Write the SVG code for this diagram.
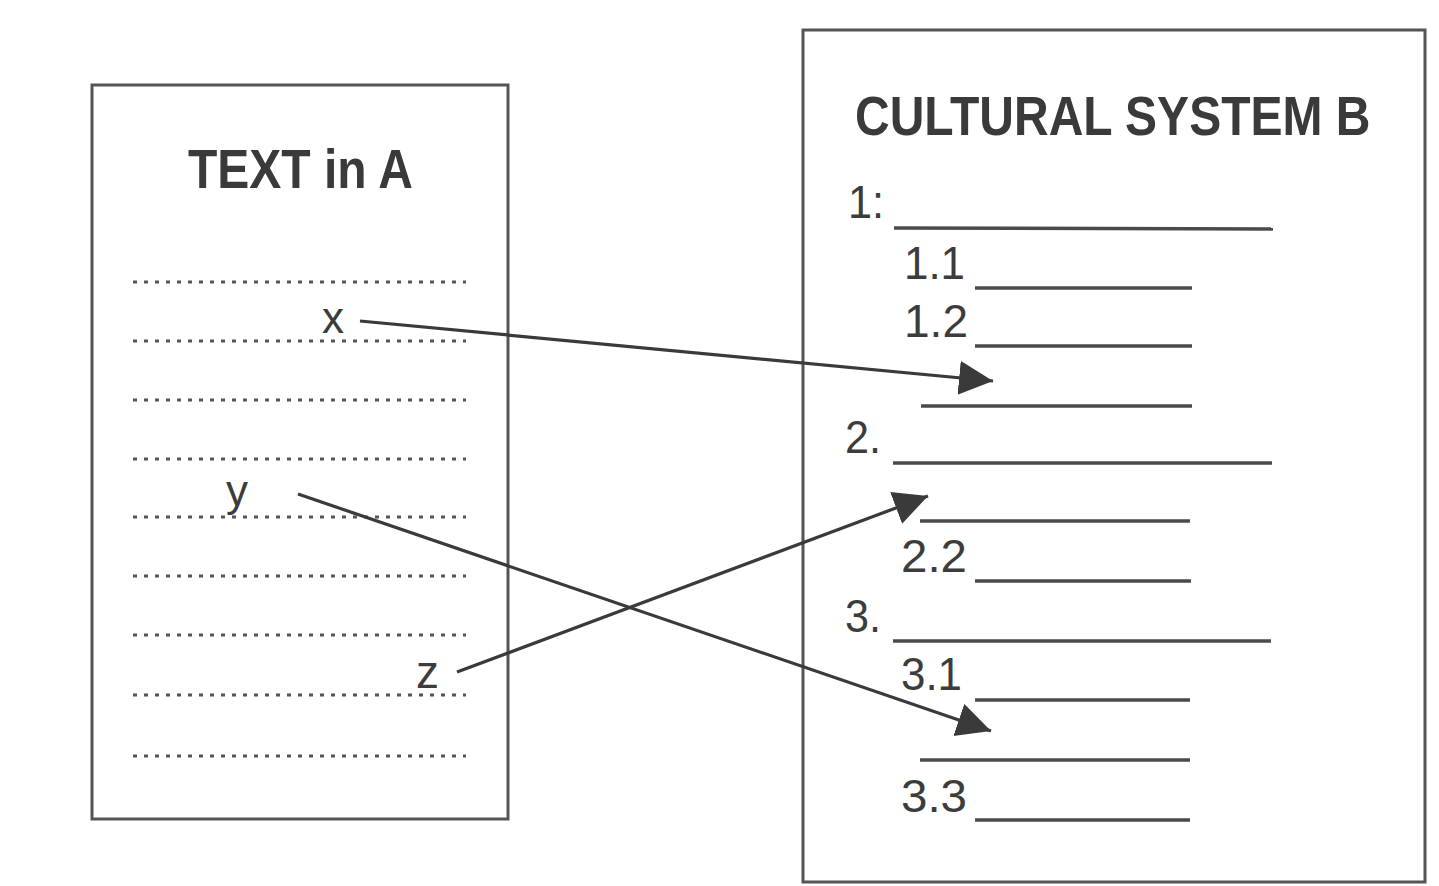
<svg xmlns="http://www.w3.org/2000/svg" width="1439" height="886" viewBox="0 0 1439 886">
<style>
.box{fill:none;stroke:#555;stroke-width:3}
.title{font-family:"Liberation Sans",Arial,sans-serif;font-weight:bold;fill:#3a3a3a;font-size:48px}
.lbl{font-family:"Liberation Sans",Arial,sans-serif;fill:#3c3c3c}
.dot{stroke:#555;stroke-width:3;stroke-dasharray:4 7}
.ul{stroke:#4a4a4a;stroke-width:3.5}
.arr{stroke:#3a3a3a;stroke-width:3.2;fill:none;marker-end:url(#ah)}
</style>
<defs>
<marker id="ah" markerUnits="userSpaceOnUse" markerWidth="36" markerHeight="36" refX="34" refY="17" orient="auto" viewBox="0 0 36 36">
<path d="M0,0 L34,17 L0,34 z" fill="#3a3a3a"/>
</marker>
</defs>
<rect width="1439" height="886" fill="#fff"/>
<g id="textA">
<rect class="box" x="92" y="85" width="416" height="734"/>
<text class="title" transform="translate(188,188) scale(1,1.16)" x="0" y="0">TEXT in A</text>
<line class="dot" x1="133" y1="282" x2="466" y2="282"/>
<line class="dot" x1="133" y1="341" x2="466" y2="341"/>
<line class="dot" x1="133" y1="400" x2="466" y2="400"/>
<line class="dot" x1="133" y1="459" x2="466" y2="459"/>
<line class="dot" x1="133" y1="517" x2="466" y2="517"/>
<line class="dot" x1="133" y1="576" x2="466" y2="576"/>
<line class="dot" x1="133" y1="635" x2="466" y2="635"/>
<line class="dot" x1="133" y1="695" x2="466" y2="695"/>
<line class="dot" x1="133" y1="756" x2="466" y2="756"/>
<text class="lbl" x="322" y="333" font-size="44">x</text>
<text class="lbl" x="226" y="506" font-size="44">y</text>
<text class="lbl" x="416" y="688" font-size="46">z</text>
</g>
<g id="systemB">
<rect class="box" x="803" y="30" width="622" height="852"/>
<text class="title" transform="translate(855,135) scale(1,1.16)" x="0" y="0">CULTURAL SYSTEM B</text>
<text class="lbl" x="848" y="218" font-size="46" textLength="36" lengthAdjust="spacingAndGlyphs">1:</text>
<line class="ul" x1="894" y1="228" x2="1273" y2="229"/>
<text class="lbl" x="904" y="279" font-size="46" textLength="61" lengthAdjust="spacingAndGlyphs">1.1</text>
<line class="ul" x1="975" y1="288" x2="1192" y2="288"/>
<text class="lbl" x="904" y="337" font-size="46" textLength="64" lengthAdjust="spacingAndGlyphs">1.2</text>
<line class="ul" x1="975" y1="346" x2="1192" y2="346"/>
<line class="ul" x1="921" y1="406" x2="1192" y2="406"/>
<text class="lbl" x="845" y="453" font-size="46" textLength="36" lengthAdjust="spacingAndGlyphs">2.</text>
<line class="ul" x1="893" y1="463" x2="1272" y2="463"/>
<line class="ul" x1="920" y1="521" x2="1190" y2="521"/>
<text class="lbl" x="901" y="572" font-size="46" textLength="66" lengthAdjust="spacingAndGlyphs">2.2</text>
<line class="ul" x1="975" y1="581" x2="1191" y2="581"/>
<text class="lbl" x="845" y="632" font-size="46" textLength="36" lengthAdjust="spacingAndGlyphs">3.</text>
<line class="ul" x1="893" y1="641" x2="1271" y2="641"/>
<text class="lbl" x="901" y="690" font-size="46" textLength="61" lengthAdjust="spacingAndGlyphs">3.1</text>
<line class="ul" x1="975" y1="700" x2="1190" y2="700"/>
<line class="ul" x1="920" y1="760" x2="1190" y2="760"/>
<text class="lbl" x="901" y="812" font-size="46" textLength="66" lengthAdjust="spacingAndGlyphs">3.3</text>
<line class="ul" x1="975" y1="820" x2="1190" y2="820"/>
</g>
<g id="connectors">
<line class="arr" x1="360" y1="321" x2="993" y2="381"/>
<line class="arr" x1="298" y1="494" x2="991" y2="731"/>
<line class="arr" x1="457" y1="672" x2="928" y2="496"/>
</g>
</svg>
